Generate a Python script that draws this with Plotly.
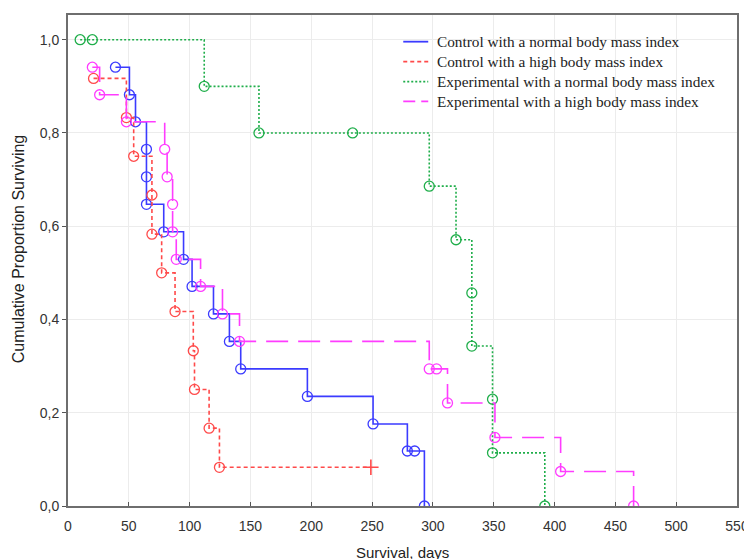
import plotly.graph_objects as go

# ---- data ----
blue_days = [39, 50.5, 55.5, 64.5, 64.5, 64.5, 78.7, 95, 102, 119.6, 132.7, 142, 196.8, 250.8, 279, 285, 293]
blue_surv = [0.941, 0.882, 0.824, 0.765, 0.706, 0.647, 0.588, 0.529, 0.471, 0.412, 0.353, 0.294, 0.235, 0.176, 0.118, 0.118, 0.0]

red_days = [21, 48, 54, 69, 69, 77, 88, 103, 104, 116, 124.5]
red_surv = [0.917, 0.833, 0.750, 0.667, 0.583, 0.500, 0.417, 0.333, 0.250, 0.167, 0.083]
red_cens_days = [249]
red_cens_surv = [0.083]

green_days = [10, 20, 112, 157, 234, 297, 319, 332, 332, 349, 349, 392]
green_surv = [1.0, 1.0, 0.9, 0.8, 0.8, 0.686, 0.571, 0.457, 0.343, 0.229, 0.114, 0.0]

mag_days = [20, 26, 48, 79.5, 81.5, 86, 86, 89, 109, 127, 141, 297, 303, 312, 351, 405, 465]
mag_surv = [0.941, 0.882, 0.824, 0.765, 0.706, 0.647, 0.588, 0.529, 0.471, 0.412, 0.353, 0.294, 0.294, 0.221, 0.147, 0.074, 0.0]

names = ["Control with a normal body mass index",
         "Control with a high body mass index",
         "Experimental with a normal body mass index",
         "Experimental with a high body mass index"]

y_tickvals = [0.0, 0.2, 0.4, 0.6, 0.8, 1.0]
y_ticktext = ["0,0", "0,2", "0,4", "0,6", "0,8", "1,0"]
x_tickvals = [0, 50, 100, 150, 200, 250, 300, 350, 400, 450, 500, 550]

colors = ["#3b3bff", "#ff4a4a", "#1fae4a", "#ff3cff"]
dashes = ["solid", "4px,3px", "2px,2px", "22px,10px"]

series = [
    (blue_days, blue_surv),
    (red_days + red_cens_days, red_surv + red_cens_surv),
    (green_days, green_surv),
    (mag_days, mag_surv),
]
markers = [
    (blue_days, blue_surv),
    (red_days, red_surv),
    (green_days, green_surv),
    (mag_days, mag_surv),
]

# page body has an 8px margin: figure is shrunk so the plot lands where the reference has it
W, H = 744, 551
ML, MR, MT, MB = 59.5, 15, 7, 52.5
PW = W - ML - MR
PH = H - MT - MB
OFF = 8  # page offset


def px2paper_x(px):
    return (px - OFF - ML) / PW


def px2paper_y(py):
    return 1 - (py - OFF - MT) / PH


fig = go.Figure()
for i, ((xs, ys), (mx, my)) in enumerate(zip(series, markers)):
    fig.add_trace(go.Scatter(
        x=xs, y=ys, mode="lines", line_shape="hv", name=names[i],
        line=dict(color=colors[i], width=1.6, dash=dashes[i]),
        showlegend=False))
    fig.add_trace(go.Scatter(
        x=mx, y=my, mode="markers", showlegend=False, hoverinfo="skip",
        marker=dict(symbol="circle-open", size=10, color=colors[i],
                    line=dict(width=1.3, color=colors[i]))))

fig.add_trace(go.Scatter(
    x=red_cens_days, y=red_cens_surv, mode="markers", showlegend=False,
    marker=dict(symbol="cross-thin-open", size=11, color=colors[1],
                line=dict(width=1.6, color=colors[1]))))

# manual legend (layout only)
legend_rows = [41.7, 61.7, 81.7, 101.5]
shapes = []
annotations = []
for i, row in enumerate(legend_rows):
    yy = px2paper_y(row)
    shapes.append(dict(type="line", xref="paper", yref="paper",
                       x0=px2paper_x(403), x1=px2paper_x(428), y0=yy, y1=yy,
                       line=dict(color=colors[i], width=1.8, dash=dashes[i] if i != 3 else "12px,6px")))
    annotations.append(dict(text=names[i], xref="paper", yref="paper",
                            x=px2paper_x(435), y=yy, xanchor="left", yanchor="middle",
                            showarrow=False,
                            font=dict(family="Liberation Serif, Times New Roman, serif",
                                      size=15.3, color="#222")))

annotations.append(dict(text="Survival, days", x=0.5, xref="paper",
                        y=px2paper_y(553), yref="paper", yanchor="middle",
                        showarrow=False, font=dict(size=15, color="#222")))
annotations.append(dict(text="Cumulative Proportion Surviving", x=px2paper_x(18), xref="paper",
                        xanchor="center", y=px2paper_y(249), yref="paper", yanchor="middle",
                        showarrow=False, textangle=-90, font=dict(size=16, color="#222")))

fig.update_layout(
    width=W, height=H,
    margin=dict(l=ML, r=MR, t=MT, b=MB, autoexpand=False),
    paper_bgcolor="white", plot_bgcolor="white",
    font=dict(family="Liberation Sans, Arial, sans-serif", size=14, color="#333"),
    showlegend=False,
    shapes=shapes,
    annotations=annotations,
)

fig.update_xaxes(range=[0, 550], tickvals=x_tickvals, ticks="inside", ticklen=4,
                 tickcolor="#555", showline=True, linecolor="#6e6e6e", linewidth=1.8,
                 mirror=True, showgrid=True, gridcolor="#ececec", gridwidth=1,
                 zeroline=False, ticklabelstandoff=6, tickfont=dict(size=14, color="#333"))
fig.update_yaxes(range=[0, 1.053], tickvals=y_tickvals, ticktext=y_ticktext,
                 ticks="outside", ticklen=4, tickcolor="#555",
                 showline=True, linecolor="#6e6e6e", linewidth=1.8, mirror=True,
                 showgrid=True, gridcolor="#ececec", gridwidth=1, zeroline=False,
                 tickfont=dict(size=14, color="#333"))

fig.write_html("out.html")
